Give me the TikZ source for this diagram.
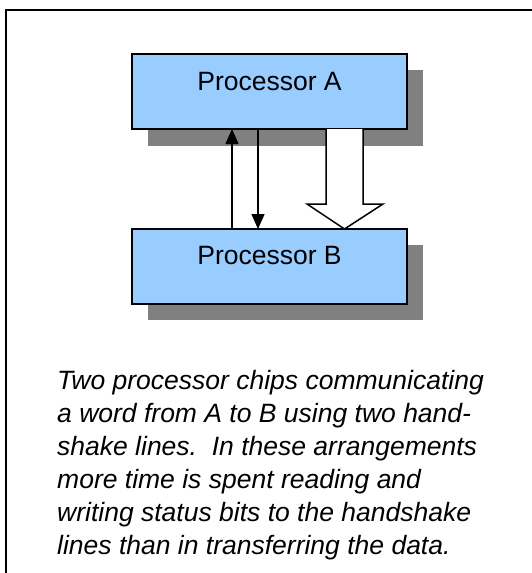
\documentclass[tikz,border=0pt]{standalone}
\usepackage{fontspec}
\setmainfont{Liberation Sans}
\usetikzlibrary{arrows.meta}
\definecolor{chipblue}{HTML}{99CCFF}
\definecolor{chipshadow}{HTML}{808080}
\begin{document}
\begin{tikzpicture}[x=1pt,y=-1pt,
  chip/.style={draw=black,line width=1.5pt,fill=chipblue},
  chipshade/.style={fill=chipshadow,draw=none},
  chiplabel/.style={font=\fontsize{26.5}{30}\selectfont,inner sep=0pt,anchor=base},
  capline/.style={font=\fontsize{26.5}{30}\selectfont\itshape,inner sep=0pt,anchor=base west},
  handshake/.style={draw=black,line width=1.5pt,-{Triangle[length=15pt,width=13pt]}},
  bus/.style={draw=black,line width=1.5pt,fill=white,line join=miter}]
  \useasboundingbox (0,0) rectangle (532,573);
  % outer frame (top and left edges)
  \draw[line width=2pt] (6,573) -- (6,10) -- (532,10);

  % drop shadows
  \fill[chipshade] (148,70) rectangle (423,146);
  \fill[chipshade] (148,245) rectangle (423,320);

  % processors
  \path[chip] (132,54) rectangle (407,129);
  \path[chip] (132,229) rectangle (407,304);
  \node[chiplabel] (labA) at (269.5,90) {Processor A};
  \node[chiplabel] (labB) at (269.5,264) {Processor B};

  % handshake lines
  \coordinate (h1b) at (232,229);
  \coordinate (h1t) at (232,129);
  \coordinate (h2t) at (258,129);
  \coordinate (h2b) at (258,229);
  \draw[handshake] (h1b) -- (h1t);
  \draw[handshake] (h2t) -- (h2b);

  % data word transfer (hollow block arrow)
  \path[bus] (326,129) -- (326,204) -- (307,204) -- (344.5,229)
     -- (383,204) -- (363,204) -- (363,129);

  % caption
  \node[capline] (c1) at (57,389) {Two processor chips communicating};
  \node[capline] (c2) at (57,422) {a word from A to B using two hand-};
  \node[capline] (c3) at (57,455) {shake lines.\ \ In these arrangements};
  \node[capline] (c4) at (57,488) {more time is spent reading and};
  \node[capline] (c5) at (57,521) {writing status bits to the handshake};
  \node[capline] (c6) at (57,554) {lines than in transferring the data.};
\end{tikzpicture}
\end{document}
